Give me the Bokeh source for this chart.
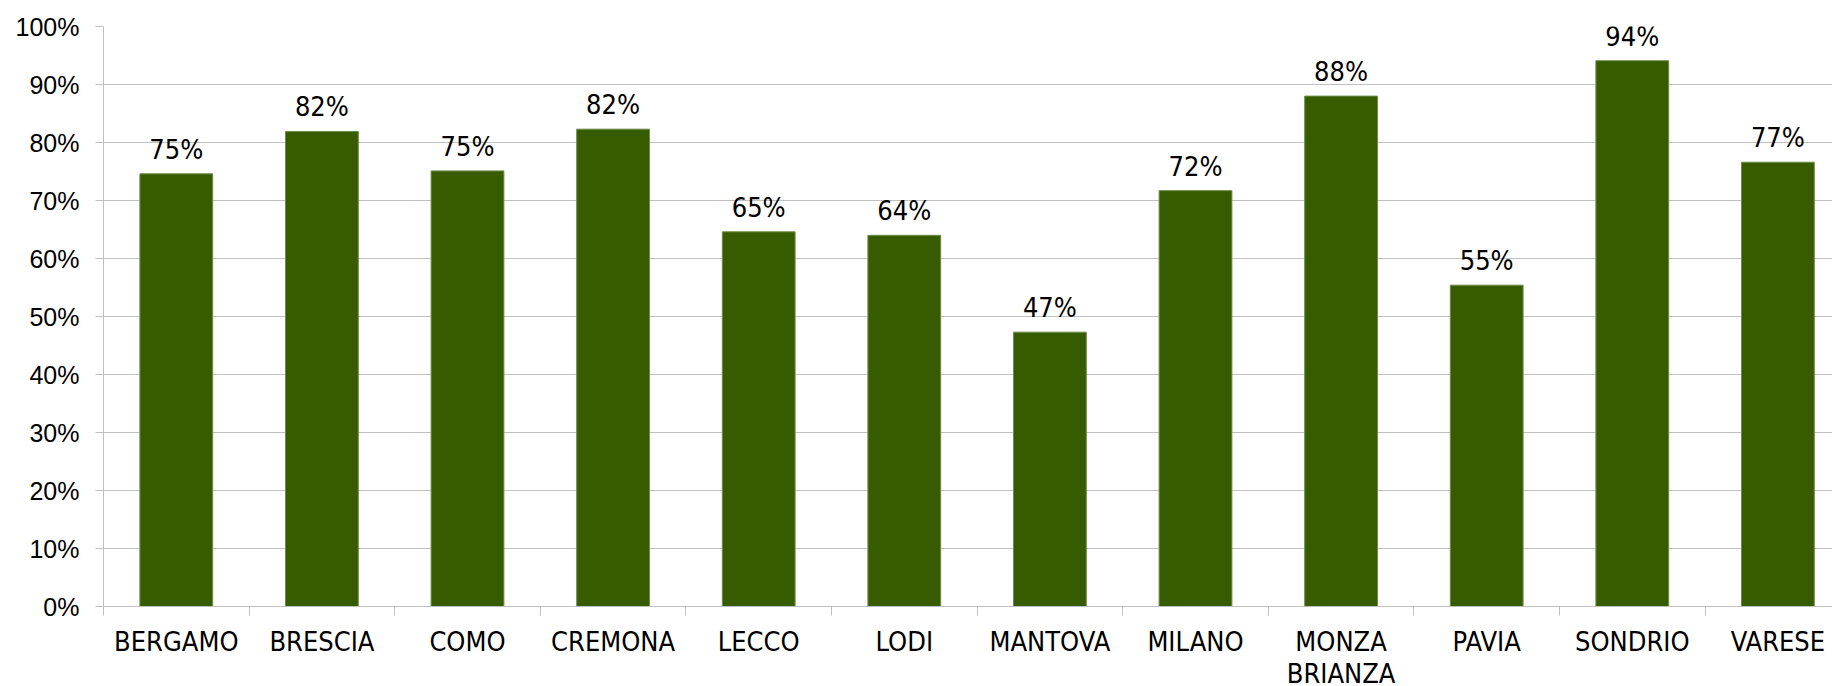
from bokeh.plotting import figure
from bokeh.models import ColumnDataSource, Range1d, FixedTicker, LabelSet, NumeralTickFormatter
from bokeh.core.properties import value
from bokeh.embed import file_html
from bokeh.resources import INLINE

provinces = ["BERGAMO", "BRESCIA", "COMO", "CREMONA", "LECCO", "LODI", "MANTOVA",
             "MILANO", "MONZA\nBRIANZA", "PAVIA", "SONDRIO", "VARESE"]
shares = [0.746, 0.819, 0.751, 0.823, 0.646, 0.640, 0.473, 0.717, 0.880, 0.554, 0.941, 0.766]
y_ticks = [0.0, 0.1, 0.2, 0.3, 0.4, 0.5, 0.6, 0.7, 0.8, 0.9, 1.0]

centers = [i + 0.5 for i in range(len(provinces))]
bounds = list(range(len(provinces) + 1))
labels = [f"{round(v * 100)}%" for v in shares]

src = ColumnDataSource(dict(x=centers, top=shares, label=labels))

GRID = "#c0c0c0"
CAT_FONT = "DejaVu Sans Condensed"

p = figure(frame_width=1729, frame_height=580,
           x_range=Range1d(0, 11.875), y_range=Range1d(0, 1.0),
           output_backend="svg", toolbar_location=None,
           min_border_left=103, min_border_top=26, min_border_right=0, min_border_bottom=0)
p.outline_line_color = None
p.background_fill_color = "white"

p.vbar(x="x", top="top", bottom=0, width=0.5, source=src,
       fill_color="#375c00", line_color="#6f8c4a", line_width=1)

# x axis
p.xaxis.ticker = FixedTicker(ticks=centers, minor_ticks=bounds)
p.xaxis.major_label_overrides = {c: n for c, n in zip(centers, provinces)}
p.xaxis.major_tick_in = 0
p.xaxis.major_tick_out = 0
p.xaxis.minor_tick_in = 0
p.xaxis.minor_tick_out = 9
p.xaxis.minor_tick_line_color = GRID
p.xaxis.axis_line_color = GRID
p.xaxis.major_label_text_font = CAT_FONT
p.xaxis.major_label_text_font_size = "27px"
p.xaxis.major_label_text_color = "black"
p.xaxis.major_label_text_line_height = 1.05
p.xaxis.major_label_standoff = 10
p.xgrid.visible = False

# y axis
p.yaxis.ticker = FixedTicker(ticks=y_ticks, minor_ticks=[])
p.yaxis.formatter = NumeralTickFormatter(format="0%")
p.yaxis.major_tick_in = 0
p.yaxis.major_tick_out = 8
p.yaxis.major_tick_line_color = GRID
p.yaxis.axis_line_color = GRID
p.yaxis.major_label_text_font = "Liberation Sans"
p.yaxis.major_label_text_font_size = "25px"
p.yaxis.major_label_text_color = "black"
p.yaxis.major_label_standoff = 16
p.ygrid.ticker = FixedTicker(ticks=y_ticks)
p.ygrid.grid_line_color = GRID
p.ygrid.grid_line_width = 1

lbl = LabelSet(x="x", y="top", text="label", source=src,
               text_align="center", text_baseline="alphabetic", y_offset=15,
               text_font=value(CAT_FONT), text_font_size="27px", text_color="black")
p.add_layout(lbl)

open("out.html", "w").write(file_html(p, INLINE))
